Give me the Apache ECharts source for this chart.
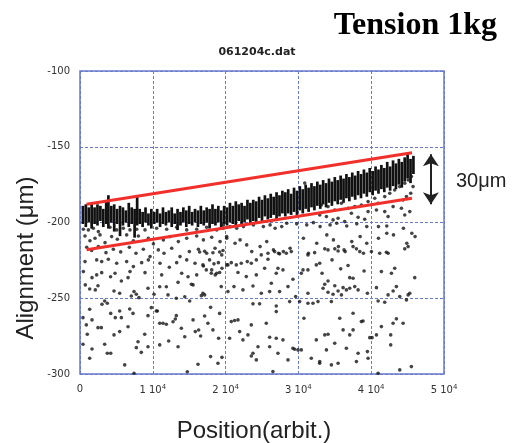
<!DOCTYPE html>
<html>
<head>
<meta charset="utf-8">
<script src="https://cdn.jsdelivr.net/npm/echarts@6/dist/echarts.min.js"></script>
<style>
  html, body { margin: 0; padding: 0; background: #fff; }
  #chart { width: 512px; height: 443px; }
</style>
</head>
<body>
<div id="chart"></div>
<script>
// dense measurement band: [position, bottom, top]
const bandStreaks = [
  [400,-201,-189],[800,-203,-188],[1200,-200,-190],[1600,-204,-187],[2000,-201,-190],[2400,-202,-188],[2800,-199,-189],[3200,-203,-191],[3600,-201,-186],[3900,-204,-182],
  [4300,-200,-189],[4700,-206,-188],[5100,-201,-191],[5500,-209,-189],[5900,-202,-190],[6300,-200,-192],[6700,-203,-187],[7100,-201,-190],[7500,-210,-191],[7850,-202,-183],
  [8200,-201,-191],[8600,-203,-193],[9000,-200,-190],[9400,-202,-194],[9800,-204,-191],[10200,-201,-193],[10600,-200,-191],[11000,-203,-194],[11400,-201,-190],[11800,-202,-193],
  [12200,-200,-192],[12600,-203,-190],[13000,-201,-194],[13400,-205,-191],[13800,-202,-193],[14200,-200,-190],[14600,-203,-192],[15000,-201,-189],[15400,-202,-193],[15800,-200,-191],
  [16200,-203,-192],[16600,-201,-189],[17000,-202,-192],[17400,-200,-190],[17800,-204,-191],[18200,-201,-188],[18600,-202,-191],[19000,-200,-189],[19400,-203,-192],[19800,-201,-189],
  [20200,-202,-190],[20600,-200,-187],[21000,-201,-189],[21400,-203,-186],[21800,-199,-188],[22200,-201,-187],[22600,-200,-189],[23000,-198,-185],[23400,-201,-187],[23800,-199,-185],
  [24200,-200,-186],[24600,-197,-183],[25000,-199,-185],[25400,-196,-182],[25800,-198,-184],[26200,-197,-181],[26600,-195,-183],[27000,-198,-180],[27400,-196,-182],[27800,-194,-179],
  [28200,-196,-180],[28600,-194,-178],[29000,-195,-181],[29400,-193,-177],[29800,-195,-179],[30200,-192,-176],[30600,-194,-178],[31000,-191,-175],[31400,-193,-177],[31800,-190,-174],
  [32200,-192,-176],[32600,-189,-173],[33000,-191,-175],[33400,-188,-172],[33800,-190,-174],[34200,-187,-171],[34600,-189,-173],[35000,-186,-170],[35400,-188,-172],[35800,-185,-169],
  [36200,-187,-171],[36600,-184,-168],[37000,-186,-170],[37400,-183,-167],[37800,-185,-169],[38200,-182,-166],[38600,-184,-168],[39000,-181,-165],[39400,-183,-167],[39800,-180,-164],
  [40200,-182,-166],[40600,-179,-163],[41000,-181,-165],[41400,-178,-162],[41800,-180,-164],[42200,-177,-160],[42600,-179,-163],[43000,-176,-159],[43400,-178,-161],[43800,-175,-158],
  [44200,-177,-160],[44600,-173,-157],[45000,-171,-155],[45400,-174,-158],[45800,-168,-156]
];

// scattered points, left part (0 .. 20000)
const scatterLeft = [
  [460,-204.5],[1150,-204.9],[1830,-203.8],[2520,-206],[4120,-203.1],[5040,-204.9],[5950,-203.8],[6870,-204.9],[7790,-204.5],[8930,-204.9],
  [10530,-203.8],[11910,-204.5],[13280,-203.1],[14660,-204.9],[16030,-204.5],[17400,-203.1],[18780,-204.9],[19690,-203.8],
  [690,-208.9],[1370,-212],[2060,-210.4],[2750,-208.2],[3440,-213.3],[4350,-209.3],[5130,-211.1],[6410,-208.2],[7330,-212],[8020,-208.9],
  [9390,-210.4],[10080,-214.1],[11450,-211.5],[12370,-209.3],[13510,-212.6],[14660,-210.4],[16030,-208.9],[16950,-211.5],[18090,-209.7],[19240,-212.6],[20150,-209.3],
  [920,-216.3],[1600,-218.5],[2520,-215.9],[3570,-219.9],[4580,-217.7],[5590,-219.4],[6780,-216.3],[7690,-220.3],[8700,-217.7],[9620,-222.5],
  [10760,-218.1],[11540,-220.3],[12600,-217],[13740,-222.5],[15020,-219.2],[16260,-217.7],[17400,-220.3],[18550,-217],[19470,-221.4],
  [690,-225.8],[2290,-224.7],[2980,-225.8],[3890,-224.3],[5040,-226.9],[6410,-225.8],[7330,-229.1],[8470,-226.5],[9390,-224.7],[10990,-226.9],
  [12270,-229.5],[13280,-226.5],[14660,-224.7],[15800,-226.9],[16950,-228.7],[18090,-231.3],[19010,-226.5],[20150,-228],
  [460,-232.4],[2290,-234.6],[2980,-233.1],[4810,-233.5],[6870,-232.4],[8930,-233.1],[11220,-234.6],[13970,-233.5],[16030,-234.6],[18780,-233.5],
  [1650,-236.4],[4200,-235.8],[5680,-238.6],[6600,-236.4],[730,-241.2],[1330,-243.9],[2100,-244.5],[2470,-241.7],[4670,-245.2],[5450,-246.7],
  [7420,-245.6],[7740,-247.4],[8100,-249.6],[7050,-248.5],[9340,-243.4],[10170,-247.4],[10950,-242.4],[11860,-242.4],[13470,-239.5],[14840,-235.8],
  [15300,-240.8],[15530,-241.2],[12090,-247.8],[13230,-250],[14390,-249],[15070,-251.8],[16670,-248.3],[3390,-251.8],[3020,-254],[3750,-253.3],
  [1330,-257.3],[4220,-260],[5450,-258.4],[5680,-262.8],[4850,-262.8],[6830,-257.1],[7280,-260],[9340,-261.5],[9800,-256.2],[10480,-258.4],
  [410,-262.8],[1650,-264.3],[870,-267.6],[2470,-269.4],[2930,-269.4],[5450,-272],[4670,-274.2],[6600,-268.8],[8890,-273.8],[7970,-278.7],
  [7740,-282.6],[8420,-285.7],[9340,-282],[1000,-273.8],[410,-280.4],[3390,-280.4],[1650,-283.5],[3750,-286.3],[4220,-286.3],[1330,-289.6],
  [6140,-294],[7420,-299.5],[10630,-258.4],[10950,-266.5],[11400,-266.5],[11860,-267.2],[12780,-265.5],[13230,-261.5],[13090,-263.7],[13920,-269.8],
  [14390,-275.4],[15530,-264.3],[16300,-271],[15840,-272],[12180,-278.2],[10950,-280.8],[13470,-282],[16210,-293.6],[14740,-298.5]
];

// scattered points, middle part (16000 .. 33000)
const scatterMid = [
  [16430,-219.5],[17120,-219],[18260,-220],[19180,-219.5],[19640,-218.5],
  [16890,-228],[17800,-224.7],[18400,-227.3],[17350,-231.3],[18030,-233.5],[18580,-234.6],[19180,-233],[19500,-230.2],
  [16890,-246.7],[17120,-247.8],[19400,-242.3],
  [20320,-228],[20780,-226.5],[21470,-228],[22150,-226.9],[22980,-225.8],[23530,-226.9],[24220,-224.7],[24900,-221.4],[25820,-220.3],[26730,-219.2],
  [27420,-220.7],[28340,-220.3],[29020,-219.2],
  [21700,-233],[22840,-235.7],[24220,-234.6],[25360,-230.2],[25820,-224.3],[27190,-230.2],[26960,-233.5],[27880,-231.3],[29250,-237.5],
  [21150,-242.3],[22380,-244.5],[23760,-241.9],[24900,-246.7],[26050,-245.6],[26280,-240.1],[27420,-245.6],[28570,-242.3],[29620,-248.9],[20320,-245.6],
  [17940,-256],[17120,-261.7],[16570,-274.9],[17570,-266.5],[18260,-270.9],[19040,-276.4],[17940,-288.5],[19500,-289],[18950,-292.9],[19180,-260],
  [23760,-253.7],[24670,-253.7],[26960,-255.1],[26960,-258.8],[28800,-252.2],
  [20780,-265.4],[21240,-264.7],[21700,-264.3],[23530,-267.6],[25590,-266.5],[26960,-276.4],[20550,-276.4],[22380,-277.5],[23070,-274.2],[26050,-275.7],
  [27880,-277.5],[21930,-272],
  [23530,-288.1],[24220,-290.7],[23760,-286.3],[27190,-286.3],[28570,-290.7],[29250,-283],[29940,-284.1],[29480,-283.7],[24450,-282],[26050,-282],[26500,-298.4],
  [30170,-252.2],[31310,-253.3],[32000,-253.3],[32690,-252.2],[30760,-263.2],[31310,-231.3],[32460,-228],[30400,-233.5],[30630,-231.3],[31310,-246.7],
  [31310,-221.4],[32230,-219.9],[32460,-277.5],[31770,-289.6],[32920,-292.9],[30400,-284.1],
  [19700,-201.6],[20610,-202.7],[21530,-203.8],[22450,-202.7],[23820,-201.6],[25190,-202.7],[26110,-201.6],[26800,-203.8],[27710,-202.7],[28400,-200.5],
  [29770,-200.9],[31150,-201.6],[32060,-200.1],
  [20160,-210.4],[21300,-213.7],[21990,-211.5],[22900,-214.8],[23590,-219.2],[24740,-215.9],[25650,-212.6],[26570,-218.1],[27260,-220.3],[27940,-219.2],
  [28860,-217],[30690,-210.4],[31380,-220.3],[32520,-213.7],[30870,-174]
];

// scattered points, right part (33000 .. 46000)
const scatterRight = [
  [32980,-202.7],[34350,-201.6],[35270,-200.5],[36640,-202.3],[38020,-200.9],[39390,-202.7],[41000,-202.7],[42140,-202.3],[44430,-203.8],
  [33900,-208.2],[34810,-211.5],[35500,-215.9],[36420,-219.2],[37330,-212.6],[38480,-209.3],[39390,-213.7],[38940,-220.3],[41000,-210.4],[42140,-207.1],
  [43060,-208.2],[44890,-213.7],[45580,-207.1],[46030,-209.3],
  [33160,-188.4],[34070,-189.5],[34990,-191.7],[35910,-187.3],[36820,-190.6],[37740,-189.5],[38650,-188.4],[39570,-186.2],[40490,-184],[40940,-187.3],
  [41860,-182.9],[42550,-180.7],[43230,-178.5],[43920,-176.3],[44610,-174.1],[45070,-171.9],[45520,-169.7],
  [32930,-195],[33850,-196.1],[34760,-198.3],[35450,-197.2],[36360,-199.4],[37280,-193.9],[38200,-196.5],[39110,-197.9],[39570,-192.8],[40720,-191.7],
  [41860,-192.8],[42320,-196.1],[43010,-189.5],[44150,-190.6],[44610,-195],[45300,-192.8],[44380,-185.1],[44840,-182.9],[45430,-180.7],[45750,-176.3],
  [33620,-217.4],[34070,-218.1],[35000,-217.4],[35450,-218.8],[36270,-218.1],[37510,-215.9],[37970,-217.4],[38430,-219.2],[40030,-219.2],[41170,-220.3],
  [42090,-219.6],[42320,-220.3],[44610,-217.4],[45070,-215.9],
  [34620,-224.7],[36820,-228.4],[32930,-226.9],[33250,-233.5],[35810,-230.6],[37050,-236.4],[37510,-236.8],[39020,-232],[41400,-232.4],[42780,-233.5],
  [43230,-230.2],[45980,-236.4],
  [33620,-240.8],[33390,-243.4],[34070,-238.6],[35000,-241.7],[35450,-245.2],[36140,-243],[36590,-244.5],[37050,-243.4],[37740,-242.3],[38200,-244.5],
  [34070,-246],[34760,-247.4],[35910,-247.8],[39480,-246.7],[40720,-243],[42320,-247.8],[43010,-245.2],[43460,-242.3],[43920,-248.9],[45070,-247.8],[45300,-246.7],
  [34530,-252.2],[40950,-251.8],[41860,-252.6],[44840,-251.1],
  [35680,-263.2],[37510,-259.9],[38650,-265.4],[38880,-265],[41400,-268.7],[42680,-274.2],[43460,-263.6],[43010,-266.5],[44380,-266.5],
  [33620,-274.2],[34070,-273.8],[36140,-270.9],[37050,-274.2],[37510,-270.9],[39800,-276],[40120,-276],[40720,-274.2],[42680,-280.8],
  [34990,-279.7],[36590,-283],[38200,-286.3],[33850,-284.1],[32930,-291.8],[34530,-294],[35450,-292.9],[37970,-291.8],[39480,-285.2],[39570,-289.6],
  [43920,-297.3],[45520,-295.1],[40950,-299.5]
];

// hand-drawn envelope lines and the 30 um span arrow
const upperFit = [[900, -188], [45600, -154]];
const lowerFit = [[900, -218], [45600, -184]];
const spanArrow = [[48200, -155], [48200, -188]];

const blue = '#6a7acb';
const tickFont = 'DejaVu Sans';

const chart = echarts.init(document.getElementById('chart'));

const dots = (data) => ({
  type: 'scatter',
  data: data,
  symbol: 'circle',
  symbolSize: 3.6,
  itemStyle: { color: '#151515' },
  silent: true,
  z: 3
});

chart.setOption({
  animation: false,
  backgroundColor: '#fff',
  grid: {
    left: 80, top: 71, width: 364, height: 303,
    show: true, borderColor: blue, borderWidth: 1.5, backgroundColor: 'transparent'
  },
  xAxis: {
    type: 'value', min: 0, max: 50000, interval: 10000,
    axisLine: { show: false }, axisTick: { show: false },
    splitLine: { show: true, lineStyle: { color: blue, type: [3, 2], width: 1 } },
    axisLabel: {
      margin: 10, color: '#333', fontFamily: tickFont, fontSize: 10,
      formatter: (v) => v === 0 ? '0' : '{n|' + (v / 10000) + ' 10}{s|4}',
      rich: {
        n: { fontFamily: tickFont, fontSize: 10, color: '#333' },
        s: { fontFamily: tickFont, fontSize: 7, color: '#333', verticalAlign: 'top', padding: [0, 0, 6, 0] }
      }
    }
  },
  yAxis: {
    type: 'value', min: -300, max: -100, interval: 50,
    axisLine: { show: false }, axisTick: { show: false },
    splitLine: { show: true, lineStyle: { color: blue, type: [3, 2], width: 1 } },
    axisLabel: { margin: 10, color: '#333', fontFamily: tickFont, fontSize: 10 }
  },
  series: [
    {
      type: 'custom',
      data: bandStreaks,
      encode: { x: 0, y: [1, 2] },
      silent: true,
      z: 2,
      renderItem: (params, api) => {
        const top = api.coord([api.value(0), api.value(2)]);
        const bot = api.coord([api.value(0), api.value(1)]);
        return {
          type: 'rect',
          shape: { x: top[0] - 1.35, y: top[1], width: 2.7, height: bot[1] - top[1] },
          style: { fill: '#111' }
        };
      }
    },
    dots(scatterLeft),
    dots(scatterMid),
    dots(scatterRight),
    {
      type: 'line', data: upperFit, symbol: 'none', silent: true, z: 5,
      lineStyle: { color: '#f2302b', width: 3 }
    },
    {
      type: 'line', data: lowerFit, symbol: 'none', silent: true, z: 5,
      lineStyle: { color: '#f2302b', width: 3 }
    },
    {
      type: 'line', data: spanArrow, symbol: 'none', silent: true, z: 5,
      lineStyle: { opacity: 0 },
      markLine: {
        silent: true,
        symbol: ['arrow', 'arrow'],
        symbolSize: [12, 12],
        label: { show: false },
        lineStyle: { color: '#222', width: 2, type: 'solid' },
        data: [[{ coord: spanArrow[0] }, { coord: spanArrow[1] }]]
      }
    }
  ],
  graphic: [
    {
      type: 'text', right: 15, top: 10,
      style: { text: 'Tension 1kg', font: 'bold 32px "Liberation Serif"', fill: '#000' }
    },
    {
      type: 'text', x: 257, y: 52,
      style: { text: '061204c.dat', font: 'bold 11px "DejaVu Sans"', fill: '#222', textAlign: 'center', textVerticalAlign: 'middle' }
    },
    {
      type: 'text', x: 456, y: 181,
      style: { text: '30μm', font: '20px "Liberation Sans"', fill: '#222', textAlign: 'left', textVerticalAlign: 'middle' }
    },
    {
      type: 'text', x: 26, y: 258, rotation: Math.PI / 2,
      style: { text: 'Alignment (μm)', font: '24px "Liberation Sans"', fill: '#222', textAlign: 'center', textVerticalAlign: 'middle' }
    },
    {
      type: 'text', x: 254, y: 431,
      style: { text: 'Position(arbit.)', font: '24px "Liberation Sans"', fill: '#222', textAlign: 'center', textVerticalAlign: 'middle' }
    }
  ]
});
</script>
</body>
</html>
